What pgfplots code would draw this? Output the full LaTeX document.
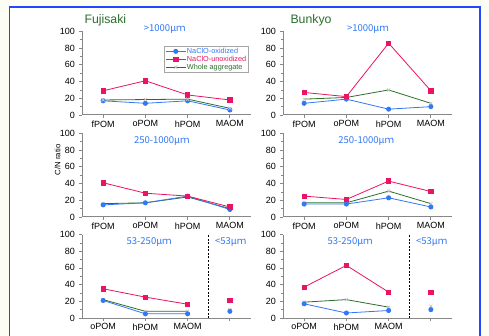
\documentclass[border=0pt]{standalone}
\usepackage{fontspec}
\setmainfont{Liberation Sans}
\newfontfamily\cjk{Noto Sans CJK JP}
\usepackage{pgfplots}
\pgfplotsset{compat=1.18}

\definecolor{cblue}{RGB}{50,120,245}
\definecolor{cpink}{RGB}{235,20,100}
\definecolor{cgreen}{RGB}{45,110,45}
\definecolor{bgc}{RGB}{253,253,244}
\definecolor{framec}{RGB}{35,70,255}
\definecolor{axc}{RGB}{135,135,135}

\tikzset{sz/.style={font=\cjk\fontsize{9.5}{10}\selectfont, text=cblue, anchor=center}}

\pgfplotsset{
 panel/.style={
  scale only axis, width=169pt, height=83.5pt,
  xmin=-0.5, xmax=3.5, ymin=0, ymax=100,
  axis x line*=bottom, axis y line*=left,
  axis line style={axc, line width=1pt, -},
  ytick={0,20,...,100}, minor ytick={10,30,...,90},
  xtick={0,1,2,3},
  every tick/.style={axc, line width=0.8pt},
  every minor tick/.style={axc, line width=0.7pt},
  tick align=outside, major tick length=3pt, minor tick length=2pt,
  tick label style={font=\fontsize{9}{10}\selectfont},
  xticklabel style={yshift=1pt},
  yticklabel style={xshift=-0.5pt},
  /pgf/number format/assume math mode=true,
  clip=false,
 },
 ox/.style={cblue, line width=0.8pt, mark=*, mark size=2.1pt, mark options={solid, fill=cblue, draw=cblue}},
 un/.style={cpink, line width=0.8pt, mark=square*, mark size=2.2pt, mark options={solid, fill=cpink, draw=cpink}},
 wh/.style={cgreen, line width=0.8pt, mark=x, mark size=2.2pt, mark options={solid, draw=gray!45, line width=0.7pt}},
 dl/.style={black, dashed, dash pattern=on 2pt off 1.5pt, line width=0.9pt, forget plot},
}

\begin{document}
\begin{tikzpicture}
\useasboundingbox (0pt,0pt) rectangle (489pt,-336pt);
\clip (0pt,0pt) rectangle (489pt,-336pt);
\fill[bgc] (0pt,0pt) rectangle (489pt,-336pt);
\draw[framec, fill=white, line width=1.3pt] (9.5pt,-7pt) rectangle (480pt,-345pt);

\node[anchor=west, font=\fontsize{12.3}{13}\selectfont, text=cgreen] at (81pt,-20pt) {Fujisaki};
\node[anchor=west, font=\fontsize{12.3}{13}\selectfont, text=cgreen] at (287pt,-20pt) {Bunkyo};
\node[rotate=90, font=\fontsize{7.8}{8}\selectfont] at (57.5pt,-160pt) {C/N ratio};

% ---------- Fujisaki >1000
\begin{axis}[panel, at={(82pt,-115pt)}, anchor=south west,
  xticklabels={fPOM,oPOM,hPOM,MAOM},
  legend style={at={(0.985,0.83)}, anchor=north east, draw=gray!70, line width=0.5pt,
    font=\fontsize{7.3}{7.5}\selectfont, row sep=-0.5pt, inner sep=1.2pt, fill=white,
    nodes={inner sep=0.8pt}},
  legend cell align=left,
  legend image code/.code={\draw[#1] (0pt,0pt) -- (20pt,0pt); \draw[#1, mark repeat=2, mark phase=2] plot coordinates {(0pt,0pt) (10pt,0pt) (20pt,0pt)};}]
\addplot[ox] coordinates {(0,17) (1,14) (2,17) (3,6)};
\addlegendentry{\textcolor{cblue}{NaClO-oxidized}}
\addplot[un] coordinates {(0,29) (1,41) (2,24) (3,18)};
\addlegendentry{\textcolor{cpink}{NaClO-unoxidized}}
\addplot[wh] coordinates {(0,18) (1,18.5) (2,19) (3,8)};
\addlegendentry{\textcolor{cgreen}{Whole aggregate}}
\node[sz] at (axis cs:1.46,103.5) {>1000μｍ};
\end{axis}

% ---------- Bunkyo >1000
\begin{axis}[panel, at={(283pt,-115pt)}, anchor=south west,
  xticklabels={fPOM,oPOM,hPOM,MAOM}]
\addplot[wh] coordinates {(0,19) (1,21) (2,30) (3,14)};
\addplot[ox] coordinates {(0,14) (1,19) (2,7) (3,10)};
\addplot[un] coordinates {(0,27) (1,22) (2,86) (3,29)};
\node[sz] at (axis cs:1.51,103.5) {>1000μｍ};
\end{axis}

% ---------- Fujisaki 250-1000
\begin{axis}[panel, at={(82pt,-217pt)}, anchor=south west,
  xticklabels={fPOM,oPOM,hPOM,MAOM}]
\addplot[wh] coordinates {(0,16) (1,17) (2,24) (3,10)};
\addplot[ox] coordinates {(0,14.5) (1,17) (2,25) (3,9)};
\addplot[un] coordinates {(0,41) (1,28.5) (2,25) (3,12)};
\node[sz] at (axis cs:1.39,91.5) {250-1000μｍ};
\end{axis}

% ---------- Bunkyo 250-1000
\begin{axis}[panel, at={(283pt,-217pt)}, anchor=south west,
  xticklabels={fPOM,oPOM,hPOM,MAOM}]
\addplot[wh] coordinates {(0,17) (1,17) (2,31) (3,16)};
\addplot[ox] coordinates {(0,15.5) (1,15.5) (2,23) (3,12)};
\addplot[un] coordinates {(0,25) (1,21) (2,43) (3,30.5)};
\node[sz] at (axis cs:1.47,91.5) {250-1000μｍ};
\end{axis}

% ---------- Fujisaki 53-250 / <53
\begin{axis}[panel, at={(82pt,-318pt)}, anchor=south west,
  xticklabels={oPOM,hPOM,MAOM,{}}]
\addplot[dl] coordinates {(2.5,0) (2.5,100)};
\addplot[wh] coordinates {(0,22) (1,8) (2,8)};
\addplot[ox] coordinates {(0,21) (1,5) (2,5)};
\addplot[un] coordinates {(0,35) (1,25) (2,16.5)};
\addplot[wh, only marks] coordinates {(3,10)};
\addplot[ox, only marks] coordinates {(3,8)};
\addplot[un, only marks] coordinates {(3,21)};
\node[sz] at (axis cs:1.09,90.5) {53-250μｍ};
\node[sz] at (axis cs:3.02,90.5) {<53μｍ};
\end{axis}

% ---------- Bunkyo 53-250 / <53
\begin{axis}[panel, at={(283pt,-318pt)}, anchor=south west,
  xticklabels={oPOM,hPOM,MAOM,{}}]
\addplot[dl] coordinates {(2.5,0) (2.5,100)};
\addplot[wh] coordinates {(0,19) (1,22) (2,13)};
\addplot[ox] coordinates {(0,17) (1,6) (2,9)};
\addplot[un] coordinates {(0,37) (1,63) (2,31)};
\addplot[wh, only marks] coordinates {(3,14)};
\addplot[ox, only marks] coordinates {(3,10)};
\addplot[un, only marks] coordinates {(3,31)};
\node[sz] at (axis cs:1.09,90.5) {53-250μｍ};
\node[sz] at (axis cs:3.02,90.5) {<53μｍ};
\end{axis}
\end{tikzpicture}
\end{document}
